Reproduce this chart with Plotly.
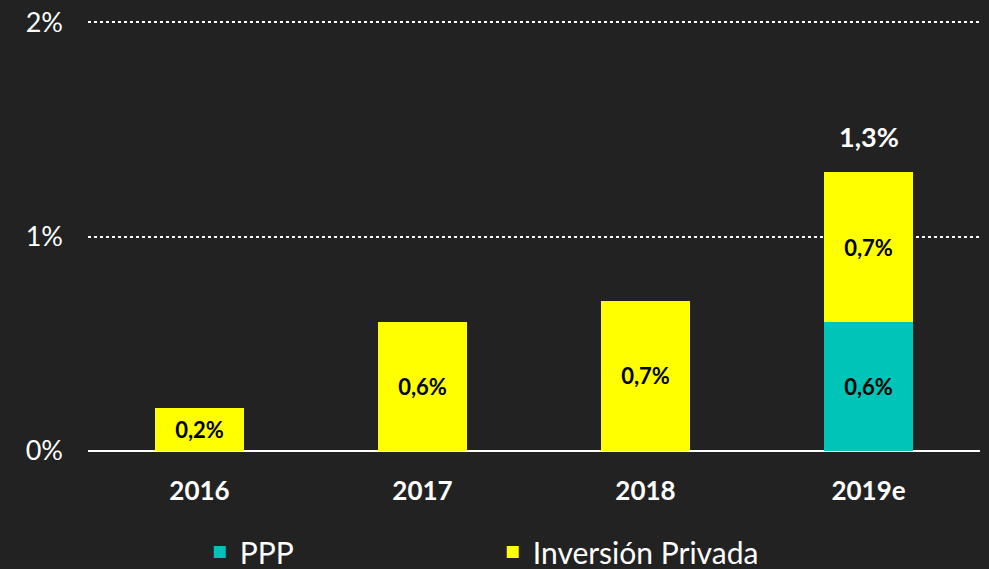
import plotly.graph_objects as go

years = ["2016", "2017", "2018", "2019e"]
ppp = [None, None, None, 0.6]
privada = [0.2, 0.6, 0.7, 0.7]
totals = [0.2, 0.6, 0.7, 1.3]
y_ticks = [0, 1, 2]
y_tick_labels = ["0%", "1%", "2%"]

FONT = "Lato"
BG = "#222222"

fig = go.Figure()
fig.add_trace(go.Bar(
    x=years, y=ppp, name="PPP", marker_color="#00c4b8",
    texttemplate="<b>%{y:.1f}%</b>", textposition="inside", insidetextanchor="middle",
    textfont=dict(color="black", size=22, family=FONT), marker_line_width=0,
))
fig.add_trace(go.Bar(
    x=years, y=privada, name="Inversión Privada", marker_color="#ffff00",
    texttemplate="<b>%{y:.1f}%</b>", textposition="inside", insidetextanchor="middle",
    textfont=dict(color="black", size=22, family=FONT), marker_line_width=0,
))

fig.add_annotation(x=years[3], y=totals[3], text="<b>1,3%</b>", showarrow=False,
                   yshift=36, font=dict(color="white", size=27, family=FONT))

fig.update_layout(
    barmode="stack", bargap=0.6,
    paper_bgcolor=BG, plot_bgcolor=BG,
    width=989, height=569,
    margin=dict(l=88, r=9, t=21, b=118, autoexpand=False),
    separators=",.",
    font=dict(family=FONT, color="white"),
    legend=dict(orientation="h", xref="container", yref="container",
                x=0.202, y=0.03, xanchor="left", yanchor="middle",
                font=dict(size=30, color="white", family=FONT),
                entrywidth=248, entrywidthmode="pixels", bgcolor="rgba(0,0,0,0)",
                traceorder="normal", itemwidth=30),
    showlegend=True,
)
fig.update_xaxes(tickfont=dict(size=26, color="white", family=FONT), showgrid=False,
                 ticklabelstandoff=22, tickprefix="<b>", ticksuffix="</b>", automargin=False)
fig.update_yaxes(range=[0, 2.005], tickvals=y_ticks, ticktext=y_tick_labels,
                 tickfont=dict(size=27, color="white", family=FONT),
                 showgrid=True, gridcolor="white", griddash="dot", gridwidth=1.6,
                 zeroline=True, zerolinecolor="white", zerolinewidth=2,
                 ticklabelstandoff=24, automargin=False)

fig.write_html("out.html", config={"displayModeBar": False},
               post_script="document.body.style.margin='0';document.body.style.background='#222222';")
